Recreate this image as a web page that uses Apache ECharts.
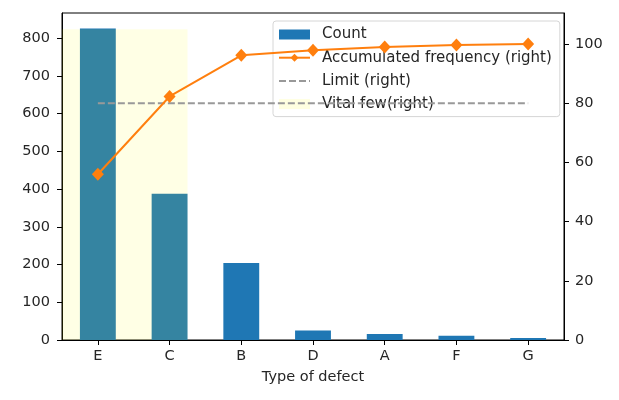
<!DOCTYPE html>
<html>
<head>
<meta charset="utf-8">
<script src="https://cdn.jsdelivr.net/npm/echarts@6/dist/echarts.min.js"></script>
<style>
html,body{margin:0;padding:0;background:#fff;}
#chart{width:619px;height:400px;}
</style>
</head>
<body>
<div id="chart"></div>
<script>
// ---- data ----
const categories = ['E', 'C', 'B', 'D', 'A', 'F', 'G'];
const counts = [826, 388, 204, 25, 16, 11, 5];
const accumulated = [56.0, 82.3, 96.2, 97.9, 99.0, 99.7, 100];
const limitValues = [80, 80, 80, 80, 80, 80, 80];
// vital few band: category-index start/end and height on right axis
const vitalFew = [[-0.5, 1.25, 105]];
const leftTicks = [0, 100, 200, 300, 400, 500, 600, 700, 800];
const rightTicks = [0, 20, 40, 60, 80, 100];
const leftMax = 867;
const rightMax = 110.5;

const FONT = 'DejaVu Sans';
const TXT = '#262626';
const FS = 14.5;

const chart = echarts.init(document.getElementById('chart'), null, {renderer: 'canvas'});

chart.setOption({
  animation: false,
  backgroundColor: '#fff',
  textStyle: {fontFamily: FONT},
  grid: {
    left: 62, right: 55, top: 13, bottom: 60,
    show: true, borderColor: '#000', borderWidth: 1, backgroundColor: 'transparent'
  },
  legend: {
    orient: 'vertical',
    left: 273, top: 21,
    z: 3,
    padding: [6, 8, 5, 5],
    itemGap: 8.2,
    itemWidth: 31,
    itemHeight: 10,
    backgroundColor: 'rgba(255,255,255,0.8)',
    borderColor: '#d6d6d6',
    borderWidth: 1,
    borderRadius: 3,
    textStyle: {fontFamily: FONT, fontSize: 15, color: TXT, lineHeight: 14.4, padding: [0, 0, 0, 7]},
    data: [
      {name: 'Count', icon: 'rect'},
      {name: 'Accumulated frequency (right)'},
      {name: 'Limit (right)', itemStyle: {opacity: 0}},
      {name: 'Vital few(right)', icon: 'rect', itemStyle: {color: '#ffffe0'}}
    ]
  },
  xAxis: {
    type: 'category',
    data: categories,
    boundaryGap: true,
    name: 'Type of defect',
    nameLocation: 'middle',
    nameGap: 30,
    nameTextStyle: {fontFamily: FONT, fontSize: FS, color: TXT, verticalAlign: 'top'},
    axisLine: {show: true, lineStyle: {color: '#000', width: 1}},
    axisTick: {show: true, alignWithLabel: true, length: 5, inside: false, lineStyle: {color: '#000'}},
    axisLabel: {fontFamily: FONT, fontSize: FS, color: TXT, margin: 9},
    splitLine: {show: false}
  },
  yAxis: [
    {
      type: 'value', position: 'left', min: 0, max: leftMax,
      axisLine: {show: true, lineStyle: {color: '#000', width: 1}},
      axisTick: {show: true, length: 5, lineStyle: {color: '#000'}, customValues: leftTicks},
      axisLabel: {fontFamily: FONT, fontSize: FS, color: TXT, margin: 12, customValues: leftTicks},
      splitLine: {show: false}
    },
    {
      type: 'value', position: 'right', min: 0, max: rightMax,
      axisLine: {show: true, lineStyle: {color: '#000', width: 1}},
      axisTick: {show: true, length: 5, lineStyle: {color: '#000'}, customValues: rightTicks},
      axisLabel: {fontFamily: FONT, fontSize: FS, color: TXT, margin: 11, customValues: rightTicks},
      splitLine: {show: false}
    }
  ],
  series: [
    {
      name: 'Count',
      type: 'bar',
      yAxisIndex: 0,
      data: counts,
      barWidth: '50%',
      z: 2,
      itemStyle: {color: '#1f77b4'}
    },
    {
      name: 'Vital few(right)',
      type: 'custom',
      yAxisIndex: 1,
      z: 4,
      clip: true,
      dimensions: ['start', 'end', 'top'],
      encode: {x: 'start', y: 'top'},
      itemStyle: {color: 'rgba(255,255,0,0.1)'},
      data: vitalFew,
      renderItem: function (params, api) {
        const band = api.size([1, 0])[0];
        const c0 = api.coord([0, 0]);
        const top = api.coord([0, api.value(2)])[1];
        const x0 = c0[0] + api.value(0) * band;
        const x1 = c0[0] + api.value(1) * band;
        return {
          type: 'rect',
          shape: {x: x0, y: top, width: x1 - x0, height: c0[1] - top},
          style: {fill: 'rgba(255,255,0,0.1)'}
        };
      }
    },
    {
      name: 'Accumulated frequency (right)',
      type: 'line',
      yAxisIndex: 1,
      data: accumulated,
      z: 6,
      symbol: 'diamond',
      symbolSize: [12, 13],
      lineStyle: {color: '#ff7f0e', width: 2},
      itemStyle: {color: '#ff7f0e'}
    },
    {
      name: 'Limit (right)',
      type: 'line',
      yAxisIndex: 1,
      data: limitValues,
      z: 5,
      symbol: 'none',
      showSymbol: false,
      lineStyle: {color: '#999999', width: 2, type: [7, 3]},
      itemStyle: {color: '#999999'}
    }
  ]
});
</script>
</body>
</html>
